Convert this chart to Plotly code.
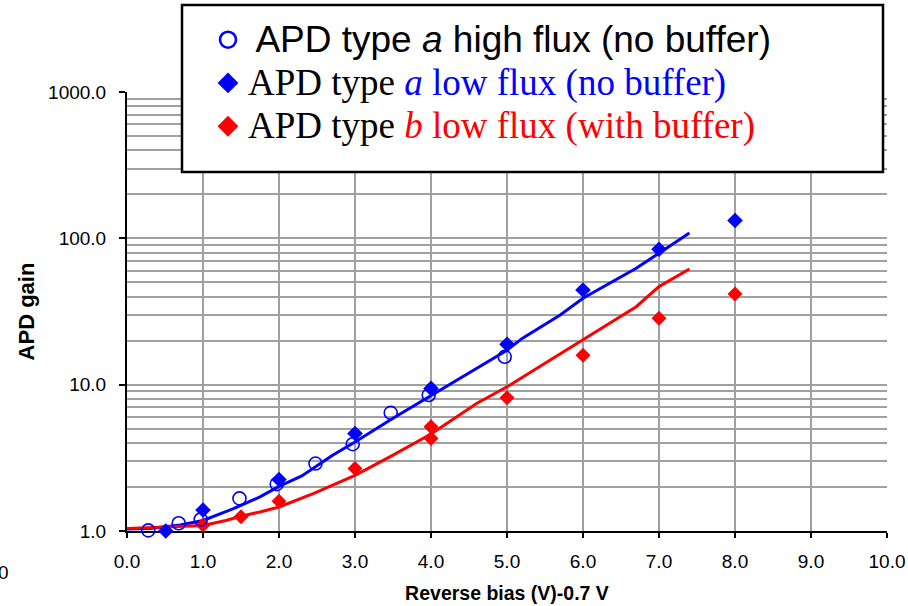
import plotly.graph_objects as go

# ---- data ----
hf_a_x = [0.28, 0.68, 0.97, 1.48, 1.97, 2.48, 2.97, 3.47, 3.97, 4.97]
hf_a_y = [1.01, 1.13, 1.20, 1.67, 2.09, 2.89, 3.92, 6.42, 8.49, 15.5]

lf_a_x = [0.51, 1.0, 2.0, 3.0, 4.0, 5.0, 6.0, 7.0, 8.0]
lf_a_y = [1.00, 1.39, 2.25, 4.64, 9.43, 18.9, 44.4, 84.3, 132.4]

lf_b_x = [1.0, 1.5, 2.0, 3.0, 4.0, 4.0, 5.0, 6.0, 7.0, 8.0]
lf_b_y = [1.10, 1.25, 1.60, 2.67, 5.15, 4.29, 8.13, 15.9, 28.4, 41.7]

fit_a_x = [0.0, 0.3, 0.7, 1.0, 1.4, 1.75, 2.0, 2.3, 2.7, 3.0, 3.5, 4.0, 4.6, 5.0, 5.2, 5.7, 6.0, 6.7, 7.0, 7.4]
fit_a_y = [1.03, 1.04, 1.10, 1.18, 1.42, 1.71, 2.02, 2.38, 3.28, 4.06, 5.9, 8.4, 12.9, 17.2, 20.7, 29.9, 39.0, 62.5, 79.2, 108.6]

fit_b_x = [0.0, 0.5, 1.0, 1.3, 1.5, 1.75, 2.0, 2.45, 3.0, 3.5, 4.0, 4.6, 5.0, 5.5, 6.0, 6.7, 7.0, 7.4]
fit_b_y = [1.04, 1.065, 1.09, 1.18, 1.26, 1.35, 1.46, 1.80, 2.40, 3.3, 4.6, 7.44, 9.67, 14.0, 20.2, 34.1, 46.8, 61.7]

minor_vals = [m * 10 ** d for d in range(3) for m in range(2, 10)]

SANS = "Liberation Sans, Arial, sans-serif"
SERIF = "Liberation Serif, Times New Roman, serif"

W, H = 908, 606
L, R, T, B = 127, 21, 92, 75
PW, PH = W - L - R, H - T - B


def px(x):
    return (x - L) / PW


def py(y):
    return (H - B - y) / PH


LEG_FS = 37  # px size of legend label text

label_hf_a = f"<span style='font-size:{LEG_FS}px'>\u2009APD type <i>a</i> high flux (no buffer)</span>"
label_lf_a = (f"<span style='font-family:{SERIF};font-size:{LEG_FS}px'>APD type "
              f"<span style='color:#0000FF'><i>a</i> low flux (no buffer)</span></span>")
label_lf_b = (f"<span style='font-family:{SERIF};font-size:{LEG_FS}px'>APD type "
              f"<span style='color:#FF0000'><i>b</i> low flux (with buffer)</span></span>")

fig = go.Figure()

fig.add_trace(go.Scatter(x=fit_a_x, y=fit_a_y, mode="lines",
                         line=dict(color="#0000FF", width=3), showlegend=False, hoverinfo="skip"))
fig.add_trace(go.Scatter(x=fit_b_x, y=fit_b_y, mode="lines",
                         line=dict(color="#FF0000", width=3), showlegend=False, hoverinfo="skip"))

fig.add_trace(go.Scatter(
    x=lf_b_x, y=lf_b_y, mode="markers", cliponaxis=False, showlegend=False, name="type b low flux",
    marker=dict(symbol="diamond", size=11.5, color="#FF0000")))
fig.add_trace(go.Scatter(
    x=lf_a_x, y=lf_a_y, mode="markers", cliponaxis=False, showlegend=False, name="type a low flux",
    marker=dict(symbol="diamond", size=12, color="#0000FF")))
fig.add_trace(go.Scatter(
    x=hf_a_x, y=hf_a_y, mode="markers", cliponaxis=False, showlegend=False, name="type a high flux",
    marker=dict(symbol="circle-open", size=13, color="#0000FF", line=dict(width=1.6, color="#0000FF"))))

# legend entries (larger symbols, like the reference legend)
fig.add_trace(go.Scatter(x=[None], y=[None], mode="markers", name=label_hf_a, legendrank=1,
                         marker=dict(symbol="circle-open", size=16, color="#0000FF",
                                     line=dict(width=2.5, color="#0000FF"))))
fig.add_trace(go.Scatter(x=[None], y=[None], mode="markers", name=label_lf_a, legendrank=2,
                         marker=dict(symbol="diamond", size=16, color="#0000FF")))
fig.add_trace(go.Scatter(x=[None], y=[None], mode="markers", name=label_lf_b, legendrank=3,
                         marker=dict(symbol="diamond", size=16, color="#FF0000")))

grid = "#a0a0a0"

fig.update_layout(
    width=W, height=H,
    margin=dict(l=L, r=R, t=T, b=B, autoexpand=False),
    paper_bgcolor="white", plot_bgcolor="white",
    font=dict(family=SANS, size=19, color="black"),
    xaxis=dict(range=[0, 10], dtick=1, tick0=0, tickformat=".1f",
               showgrid=True, gridcolor=grid, gridwidth=1.5, zeroline=False,
               showline=True, linecolor="black", linewidth=2,
               ticks="outside", ticklen=5, tickwidth=1.5, tickcolor="black",
               ticklabelstandoff=7, layer="below traces",
               title=dict(text="<b>Reverse bias (V)-0.7 V</b>", font=dict(size=19.5), standoff=16)),
    yaxis=dict(type="log", range=[0, 3], dtick=1, tickformat=".1f",
               showgrid=True, gridcolor=grid, gridwidth=1.5, zeroline=False,
               showline=True, linecolor="black", linewidth=2,
               ticks="outside", ticklen=6, tickwidth=1.5, tickcolor="black",
               ticklabelstandoff=9, layer="below traces",
               minor=dict(tickmode="array", tickvals=minor_vals, showgrid=True,
                          gridcolor=grid, gridwidth=1.5, ticks=""),
               title=dict(text="<b>APD gain</b>", font=dict(size=22), standoff=7)),
    legend=dict(x=px(208), y=py(13), xanchor="left", yanchor="top",
                bgcolor="rgba(0,0,0,0)", borderwidth=0,
                font=dict(family=SANS, size=31, color="black")),
    shapes=[dict(type="rect", xref="paper", yref="paper", layer="above",
                 x0=px(182), x1=px(883), y0=py(172), y1=py(5),
                 line=dict(color="black", width=2.5), fillcolor="white")],
    annotations=[dict(text="0", xref="paper", yref="paper", x=px(-4), y=py(572),
                      xanchor="left", yanchor="middle", showarrow=False,
                      font=dict(size=19, family=SANS, color="black"))],
)

fig.write_html("out.html")
